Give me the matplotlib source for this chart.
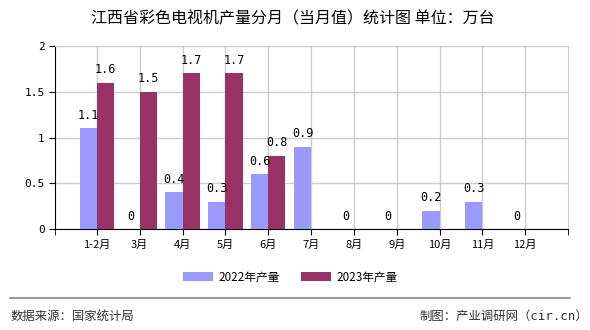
import matplotlib.pyplot as plt
import numpy as np

plt.rcParams['font.family'] = ['Noto Sans CJK SC', 'DejaVu Sans']

months = ['1-2月', '3月', '4月', '5月', '6月', '7月', '8月', '9月', '10月', '11月', '12月']
prod_2022 = [1.1, 0, 0.4, 0.3, 0.6, 0.9, 0, 0, 0.2, 0.3, 0]
prod_2023 = [1.6, 1.5, 1.7, 1.7, 0.8]

blue = '#9999ff'
red = '#993366'

fig = plt.figure(figsize=(5.9, 3.3), dpi=100, facecolor='white')
ax = fig.add_axes([0.0932, 0.306, 0.8695, 0.5545])

x = np.arange(len(months))
w = 0.4
ax.bar(x - w / 2, prod_2022, width=w, color=blue, label='2022年产量', zorder=3)
ax.bar(x[:len(prod_2023)] + w / 2, prod_2023, width=w, color=red, label='2023年产量', zorder=3)

for xi, v in zip(x, prod_2022):
    ax.text(xi - w / 2, v + 0.07, f'{v:g}', ha='center', va='bottom', fontsize=8.5,
            family='DejaVu Sans Mono')
for xi, v in zip(x, prod_2023):
    ax.text(xi + w / 2, v + 0.07, f'{v:g}', ha='center', va='bottom', fontsize=8.5,
            family='DejaVu Sans Mono')

ax.set_xlim(-0.98, 11.0)
ax.set_ylim(0, 2)
ax.set_yticks([0, 0.5, 1, 1.5, 2])
ax.set_yticklabels(['0', '0.5', '1', '1.5', '2'], family='DejaVu Sans Mono', fontsize=8)
ax.set_xticks(x)
ax.set_xticklabels(months, fontsize=8)
ax.set_xticks([-0.98, 11.0], minor=True)
ax.tick_params(axis='x', which='both', length=4, direction='out', color='black')
ax.tick_params(axis='y', length=4, direction='out')
ax.grid(True, color='#cccccc', linewidth=1, zorder=0)
for s in ['top', 'right']:
    ax.spines[s].set_color('#cccccc')
for s in ['left', 'bottom']:
    ax.spines[s].set_color('black')

fig.text(0.497, 0.944, '江西省彩色电视机产量分月（当月值）统计图 单位：万台', ha='center', va='center',
         fontsize=11.5)
fig.legend(loc='center', bbox_to_anchor=(0.492, 0.161), ncol=2, frameon=False, fontsize=8.4,
           handlelength=2.6, handleheight=0.9, columnspacing=1.8, handletextpad=0.45)
fig.add_artist(plt.Line2D([0.017, 0.966], [0.097, 0.097], color='#888888', linewidth=1.2,
                          transform=fig.transFigure))
fig.text(0.018, 0.042, '数据来源：国家统计局', ha='left', va='center', fontsize=8.9, color='#333333')
fig.text(0.997, 0.042, '制图：产业调研网（cir.cn）', ha='right', va='center', fontsize=8.9, color='#333333',
         family=['DejaVu Sans Mono', 'Noto Sans CJK SC'])

fig.savefig('out.png', dpi=100)
